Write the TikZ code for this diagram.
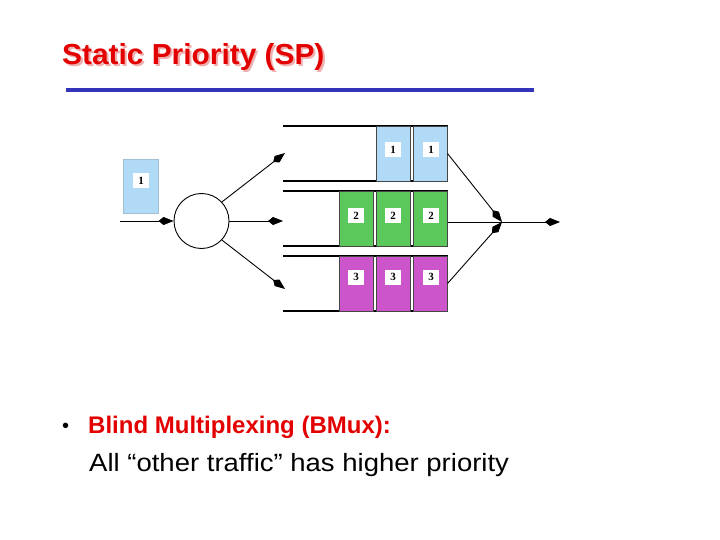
\documentclass[tikz,border=0pt]{standalone}
\usepackage{fontspec}
\setmainfont{Liberation Sans}
\newfontfamily\lblfont{Liberation Serif}
\usetikzlibrary{arrows.meta}
\definecolor{titlered}{RGB}{226,0,0}
\definecolor{shadowpink}{RGB}{240,175,175}
\definecolor{rulblue}{RGB}{51,51,187}
\definecolor{pktblue}{RGB}{176,218,246}
\definecolor{pktgreen}{RGB}{90,200,90}
\definecolor{pktmag}{RGB}{204,85,204}
\definecolor{pktedge}{RGB}{70,70,70}
\newcommand{\shadowtext}[1]{\makebox[0pt][l]{\hspace{2pt}\raisebox{-2pt}{\color{shadowpink}#1}}{\color{titlered}#1}}
\begin{document}
\begin{tikzpicture}[x=1pt,y=-1pt,
  tip/.style={-{Kite[length=15pt,width=8pt,inset=5pt]}},
  qline/.style={line width=1.4pt},
  conn/.style={line width=0.9pt},
  cell/.style={draw=pktedge,line width=0.8pt,minimum width=34pt,minimum height=55pt,inner sep=0pt,outer sep=0pt},
  lbl/.style={fill=white,inner sep=0pt,minimum width=16pt,minimum height=15pt,font=\lblfont\bfseries\fontsize{11}{11}\selectfont},
  titlefont/.style={font=\fontsize{29}{32}\selectfont\bfseries}]
\useasboundingbox (0,0) rectangle (720,540);
% title
\node[titlefont,anchor=base west,inner sep=0pt,xscale=1.03] (title) at (62,65) {\shadowtext{Static Priority (SP)}};
\draw[rulblue,line width=4pt] (66,90) -- (534,90);
% incoming packet
\node[cell,fill=pktblue,draw=pktblue!70!gray,minimum height=54pt,minimum width=35pt] (inpkt) at (141,186) {};
\node[lbl] at (141,181) {1};
% input and circle
\coordinate (in0) at (120,221);
\node[draw,circle,minimum size=55pt,inner sep=0pt,line width=0.9pt] (sw) at (201.5,221) {};
\draw[conn,tip] (in0) -- (sw.west);
\coordinate (q1in) at (285,153);
\coordinate (q2in) at (283,221);
\coordinate (q3in) at (285,289);
\draw[conn,tip] (sw.43) -- (q1in);
\draw[conn,tip] (sw.east) -- (q2in);
\draw[conn,tip] (sw.-43) -- (q3in);
% queues
\foreach \t/\b in {126/181,191/246,256/311}{
  \draw[qline] (283,\t) -- (448,\t);
  \draw[qline] (283,\b) -- (448,\b);
}
% queue 1 cells
\node[cell,fill=pktblue] (c1a) at (393,153.5) {};
\node[cell,fill=pktblue] (c1b) at (430.5,153.5) {};
% queue 2 cells
\node[cell,fill=pktgreen] (c2a) at (356,218.5) {};
\node[cell,fill=pktgreen] (c2b) at (393,218.5) {};
\node[cell,fill=pktgreen] (c2c) at (430.5,218.5) {};
% queue 3 cells
\node[cell,fill=pktmag] (c3a) at (356,283.5) {};
\node[cell,fill=pktmag] (c3b) at (393,283.5) {};
\node[cell,fill=pktmag] (c3c) at (430.5,283.5) {};
\foreach \x in {393,431}{\node[lbl] at (\x,150) {1};}
\foreach \x in {356,393,431}{\node[lbl] at (\x,216) {2};}
\foreach \x in {356,393,431}{\node[lbl] at (\x,277) {3};}
% output
\coordinate (mux) at (502,222);
\coordinate (out) at (560,222);
\draw[conn,tip] (c1b.east) -- (mux);
\draw[conn] (c2c.east |- mux) -- (mux);
\draw[conn,tip] (c3c.east) -- (mux);
\draw[conn,tip] (mux) -- (out);
% text
\node[anchor=base west,inner sep=0pt,font=\fontsize{20}{24}\selectfont] (bul) at (62,432) {•};
\node[anchor=base west,inner sep=0pt,text=titlered,font=\fontsize{24}{28}\selectfont\bfseries] (b1) at (88,433) {Blind Multiplexing (BMux):};
\node[anchor=base west,inner sep=0pt,xscale=1.1,font=\fontsize{25}{28}\selectfont] (b2) at (89,471) {All “other traffic” has higher priority};
\end{tikzpicture}
\end{document}
